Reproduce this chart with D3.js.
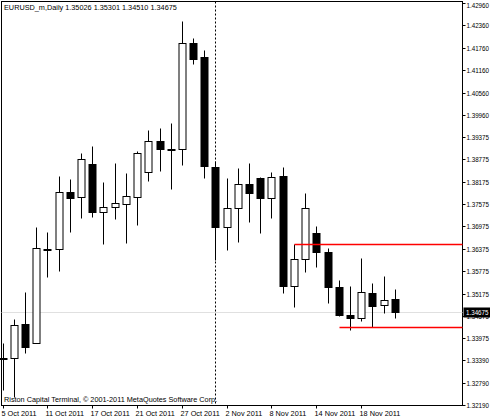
<!DOCTYPE html>
<html><head><meta charset="utf-8">
<script src="https://cdn.jsdelivr.net/npm/d3@7"></script>
<style>body{margin:0;background:#fff}svg{display:block}text{font-family:"Liberation Sans",Arial,sans-serif;font-size:7.3px;fill:#000}</style>
</head><body>
<svg id="c" width="490" height="420"></svg>
<script>
const dates=["5 Oct","6 Oct","7 Oct","10 Oct","11 Oct","12 Oct","13 Oct","14 Oct","17 Oct","18 Oct","19 Oct","20 Oct","21 Oct","24 Oct","25 Oct","26 Oct","27 Oct","28 Oct","31 Oct","1 Nov","2 Nov","3 Nov","4 Nov","7 Nov","8 Nov","9 Nov","10 Nov","11 Nov","14 Nov","15 Nov","16 Nov","17 Nov","18 Nov","21 Nov","22 Nov","23 Nov"];
const open=[1.33446,1.33446,1.34357,1.33848,1.36367,1.36367,1.37894,1.37760,1.38645,1.37358,1.37492,1.37573,1.37760,1.38430,1.39261,1.39047,1.39047,1.41888,1.41512,1.38564,1.36956,1.37466,1.38109,1.38270,1.37734,1.38323,1.35375,1.36099,1.36796,1.36286,1.35348,1.34598,1.34518,1.35188,1.34866,1.35026];
const high=[1.33848,1.34491,1.35214,1.36956,1.36822,1.38323,1.38243,1.38940,1.39127,1.38162,1.38672,1.38404,1.38993,1.39556,1.39610,1.39744,1.42478,1.42022,1.41700,1.38725,1.38270,1.38538,1.38672,1.38296,1.38430,1.38564,1.36501,1.37868,1.36983,1.36394,1.35536,1.35375,1.36126,1.35456,1.35643,1.35301];
const low=[1.32588,1.32400,1.33580,1.33848,1.35616,1.35777,1.36822,1.37198,1.37224,1.36501,1.37171,1.36528,1.37010,1.38189,1.38457,1.37975,1.38618,1.41325,1.38270,1.36072,1.36340,1.36554,1.37090,1.36796,1.37198,1.35188,1.34812,1.35750,1.35884,1.34920,1.34580,1.34196,1.34437,1.34276,1.34652,1.34510];
const close=[1.33446,1.34330,1.33740,1.36394,1.36350,1.37894,1.37734,1.38779,1.37358,1.37492,1.37600,1.37787,1.38940,1.39261,1.39047,1.39040,1.41888,1.41459,1.38591,1.36956,1.37466,1.38109,1.37868,1.37734,1.38296,1.35375,1.36099,1.37466,1.36286,1.35348,1.34598,1.34518,1.35214,1.34839,1.35000,1.34675];
const yTicks=[1.42960,1.42360,1.41760,1.41160,1.40560,1.39960,1.39375,1.38775,1.38175,1.37575,1.36975,1.36375,1.35775,1.35175,1.34575,1.33975,1.33390,1.32790,1.32190];
const xLabelIdx=[0,4,8,12,16,20,24,28,32];
const xLabels=["5 Oct 2011","11 Oct 2011","17 Oct 2011","21 Oct 2011","27 Oct 2011","2 Nov 2011","8 Nov 2011","14 Nov 2011","18 Nov 2011"];
const resistance=1.36501, support=1.34276, resStart=26, supStart=30, sepIdx=19;
const title="EURUSD_m,Daily  1.35026 1.35301 1.34510 1.34675";
const footer="Riston Capital Terminal, \u00a9 2001-2011 MetaQuotes Software Corp.";

const svg=d3.select("#c");
const L=1.5,R=462.5,T=1.5,B=405.5;
const y=d3.scaleLinear().domain([1.32190,1.42960]).range([405,3]);
const x=d3.scaleLinear().domain([0,35]).range([2.7,394.7]);
const cx=i=>Math.round(x(i))+0.5;
const py=v=>Math.round(y(v))+0.5;

svg.append("rect").attr("x",L).attr("y",T).attr("width",R-L).attr("height",B-T).attr("fill","#fff").attr("stroke","#000").attr("stroke-width",1);
const g=svg.append("g");
g.append("line").attr("x1",L).attr("x2",R).attr("y1",py(close[35])).attr("y2",py(close[35])).attr("stroke","#c0c0c0").attr("stroke-dasharray","1,1");
g.append("line").attr("x1",cx(sepIdx)).attr("x2",cx(sepIdx)).attr("y1",T).attr("y2",B).attr("stroke","#000").attr("stroke-dasharray","2,2");
const idx=d3.range(dates.length);
g.selectAll("line.w").data(idx).join("line").attr("x1",cx).attr("x2",cx).attr("y1",i=>py(high[i])).attr("y2",i=>py(low[i])).attr("stroke","#000");
g.selectAll("rect.b").data(idx).join("rect")
 .attr("x",i=>cx(i)-3.5).attr("width",7)
 .attr("y",i=>py(Math.max(open[i],close[i])))
 .attr("height",i=>Math.max(1,py(Math.min(open[i],close[i]))-py(Math.max(open[i],close[i]))))
 .attr("fill",i=>close[i]>=open[i]?"#fff":"#000").attr("stroke","#000");
g.append("line").attr("x1",cx(resStart)).attr("x2",R).attr("y1",py(resistance)).attr("y2",py(resistance)).attr("stroke","#ff0000").attr("stroke-width",1.5);
g.append("line").attr("x1",cx(supStart)).attr("x2",R).attr("y1",py(support)).attr("y2",py(support)).attr("stroke","#ff0000").attr("stroke-width",1.5);
const ya=svg.append("g");
const cy=py(close[35]);
yTicks.forEach(v=>{
  ya.append("line").attr("x1",R).attr("x2",R+3).attr("y1",py(v)).attr("y2",py(v)).attr("stroke","#000");
  ya.append("text").attr("x",R+4).attr("y",Math.max(8,py(v)+2.5)).attr("textLength",22.5).attr("lengthAdjust","spacingAndGlyphs").text(v.toFixed(5));
});
ya.append("rect").attr("x",R+1).attr("y",cy-5).attr("width",27).attr("height",10).attr("fill","#000");
ya.append("text").attr("x",R+3.5).attr("y",cy+2.5).attr("textLength",22.5).attr("lengthAdjust","spacingAndGlyphs").style("fill","#fff").text(close[35].toFixed(5));
xLabelIdx.forEach((i,k)=>{
  svg.append("line").attr("x1",cx(i)).attr("x2",cx(i)).attr("y1",B).attr("y2",B+3).attr("stroke","#000");
  svg.append("text").attr("x",cx(i)-2).attr("y",416).text(xLabels[k]);
});
svg.append("text").attr("x",4).attr("y",10).text(title);
svg.append("text").attr("x",4).attr("y",402).text(footer);
</script></body></html>
